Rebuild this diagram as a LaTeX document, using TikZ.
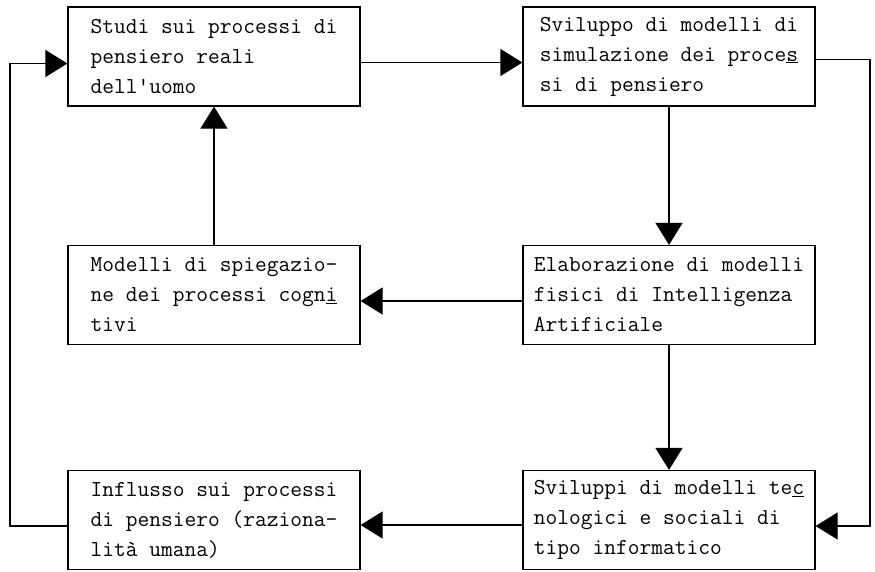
\documentclass[tikz,border=0pt]{standalone}
\usepackage{fontspec}
\usetikzlibrary{arrows.meta}

\begin{document}
\begin{tikzpicture}[x=1pt, y=-1pt,
    box/.style={draw, line width=1.2pt, minimum width=292pt, minimum height=99pt,
      inner sep=0pt, align=left,
      font=\ttfamily\addfontfeatures{FakeBold=0.5}\fontsize{22.8}{30}\selectfont},
    freccia/.style={line width=1.2pt, -{Triangle[length=22pt,width=27pt]}}]

    % Frame
    \useasboundingbox (0,0) rectangle (875,571);

    % Corners of the outer loops
    \coordinate (sinistra) at (10,300);
    \coordinate (destra) at (870,300);

    % Boxes
    \node[box] (studi) at (214,56.5) {Studi sui processi di\\pensiero reali\\dell\textquotesingle uomo};
    \node[box] (sviluppo) at (669,56.5) {Sviluppo di modelli di\\simulazione dei proce\underline{s}\\si di pensiero};
    \node[box] (spiegazione) at (214,295) {Modelli di spiegazio-\\ne dei processi cogn\underline{i}\\tivi};
    \node[box] (elaborazione) at (669,295) {Elaborazione di modelli\\fisici di Intelligenza\\Artificiale};
    \node[box] (influsso) at (214,520) {Influsso sui processi\\di pensiero (raziona-\\lità umana)};
    \node[box] (tecno) at (669,520) {Sviluppi di modelli te\underline{c}\\nologici e sociali di\\tipo informatico};

    % Arrows
    \draw[freccia] ([yshift=-6pt]studi.east) -- ([yshift=-6pt]sviluppo.west);
    \draw[freccia] (sviluppo.south) -- (elaborazione.north);
    \draw[freccia] ([yshift=-6pt]elaborazione.west) -- ([yshift=-6pt]spiegazione.east);
    \draw[freccia] (spiegazione.north) -- (studi.south);
    \draw[freccia] (elaborazione.south) -- (tecno.north);
    \draw[freccia] ([yshift=-5pt]tecno.west) -- ([yshift=-5pt]influsso.east);
    \draw[freccia] ([yshift=-6pt]influsso.west) -| (sinistra) |- ([yshift=-7pt]studi.west);
    \draw[freccia] ([yshift=-3pt]sviluppo.east) -| (destra) |- ([yshift=-6pt]tecno.east);

\end{tikzpicture}
\end{document}
